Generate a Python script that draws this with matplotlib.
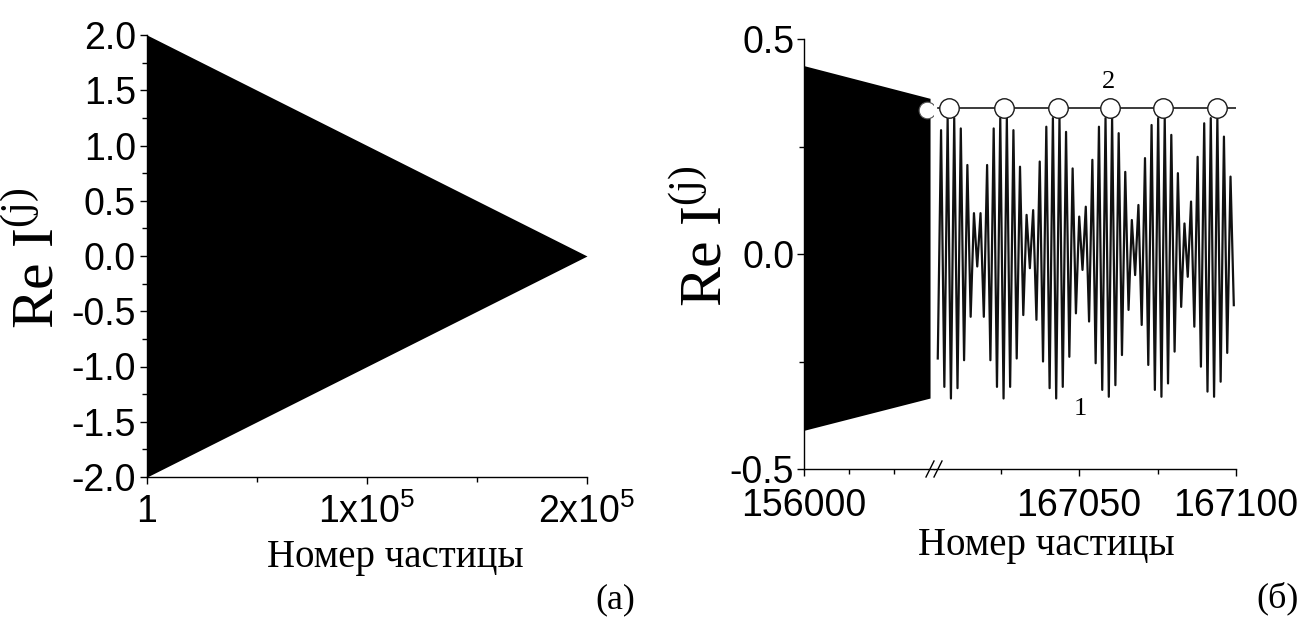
import numpy as np
import matplotlib
matplotlib.use("Agg")
import matplotlib.pyplot as plt
from matplotlib.lines import Line2D
from matplotlib.ticker import FixedLocator, MultipleLocator, FormatStrFormatter

plt.rcParams['font.family'] = ['Liberation Sans', 'DejaVu Sans']
plt.rcParams['axes.unicode_minus'] = False

# ---- panel (a): envelope of Re I(j) over the whole chain ----
a_x = [1, 2.0e5]
a_upper = [2.0, 0.0]
a_lower = [-2.0, 0.0]
a_xticks = [1, 1.0e5, 2.0e5]
a_xticklabels = ['1', r'$\mathregular{1x10^5}$', r'$\mathregular{2x10^5}$']

# ---- panel (б), left of the break: envelope near particle 156000 ----
b_env_x = [156000, 157400]
b_env_upper = [0.438, 0.362]
b_env_lower = [-0.410, -0.335]
b_end_circle_x = [157370]
b_end_circle_y = [0.336]

# ---- panel (б), right of the break: curve 1 (read sample by sample) ----
curve1_start, curve1_end = 167005.0, 167099.3
curve1_y = [
    -0.243, 0.288, -0.309, 0.316, -0.336, 0.316, -0.312, 0.292, -0.247, 0.207,
    -0.146, 0.095, -0.029, 0.095, -0.146, 0.207, -0.247, 0.292, -0.309, 0.316,
    -0.336, 0.316, -0.309, 0.288, -0.243, 0.203, -0.142, 0.091, -0.033,
    0.102, -0.153, 0.215, -0.250, 0.296, -0.312, 0.316, -0.336, 0.316, -0.309,
    0.284, -0.239, 0.199, -0.138, 0.087, -0.037, 0.110, -0.157, 0.219, -0.254,
    0.296, -0.316, 0.316, -0.332, 0.316, -0.305, 0.281, -0.235, 0.191, -0.130,
    0.079, -0.049,
    0.114, -0.165, 0.223, -0.258, 0.300, -0.316, 0.316, -0.332, 0.316, -0.301,
    0.277, -0.227, 0.188, -0.123, 0.071, -0.053, 0.122, -0.169, 0.226, -0.262,
    0.304, -0.320, 0.316, -0.332, 0.316, -0.297, 0.273, -0.230, 0.180, -0.119,
]
curve1_x = np.linspace(curve1_start, curve1_end, len(curve1_y))

# curve 2: envelope maxima
curve2_line_x = [167005, 167100]
curve2_line_y = [0.34, 0.34]
curve2_x = [167008.6, 167026.1, 167043.2, 167059.9, 167076.8, 167094.0]
curve2_y = [0.34, 0.34, 0.34, 0.34, 0.34, 0.34]

W, H = 1301, 617
fig = plt.figure(figsize=(W / 100, H / 100), dpi=100)

tick_fs = 27
serif = 'Liberation Serif'


def style(ax):
    for s in ax.spines.values():
        s.set_linewidth(1.0)
    ax.spines['top'].set_visible(False)
    ax.spines['right'].set_visible(False)
    ax.tick_params(which='major', direction='out', length=5, width=1.0, labelsize=tick_fs)
    ax.tick_params(which='minor', direction='out', length=3.5, width=1.0)


def fig_box(x0, y0, x1, y1):
    return [x0 / W, 1 - y1 / H, (x1 - x0) / W, (y1 - y0) / H]


# ---------------- panel (a) ----------------
axA = fig.add_axes(fig_box(147, 35, 587, 477))
axA.fill_between(a_x, a_upper, a_lower, color='black', lw=0)
axA.set_xlim(a_x[0], a_x[1])
axA.set_ylim(-2.0, 2.0)
style(axA)
axA.set_xticks(a_xticks)
axA.set_xticklabels(a_xticklabels)
axA.xaxis.set_minor_locator(FixedLocator([5.0e4, 1.5e5]))
axA.yaxis.set_major_locator(MultipleLocator(0.5))
axA.yaxis.set_minor_locator(MultipleLocator(0.25))
axA.yaxis.set_major_formatter(FormatStrFormatter('%.1f'))
axA.tick_params(axis='x', pad=7)
axA.tick_params(axis='y', pad=3)

# ---------------- panel (б) ----------------
brk = 934
axB1 = fig.add_axes(fig_box(804, 39, brk, 469))
axB2 = fig.add_axes(fig_box(brk, 39, 1236, 469))

axB1.fill_between(b_env_x, b_env_upper, b_env_lower, color='black', lw=0)
axB1.plot(b_end_circle_x, b_end_circle_y, 'o', ms=12, mfc='white', mec='#555555',
          mew=0.8, clip_on=False, zorder=5)
axB1.set_xlim(156000, 157444)
axB1.set_ylim(-0.5, 0.5)
style(axB1)
axB1.set_xticks([156000])
axB1.xaxis.set_minor_locator(FixedLocator([156500, 157000]))
axB1.set_yticks([-0.5, 0.0, 0.5])
axB1.yaxis.set_minor_locator(FixedLocator([-0.25, 0.25]))
axB1.yaxis.set_major_formatter(FormatStrFormatter('%.1f'))
axB1.tick_params(axis='x', pad=9)
axB1.tick_params(axis='y', pad=2)

axB2.plot(curve1_x, curve1_y, color='#111111', lw=1.6, zorder=2)
axB2.plot(curve2_line_x, curve2_line_y, color='#1a1a1a', lw=1.2, zorder=3)
axB2.plot(curve2_x, curve2_y, 'o', ms=14, mfc='white', mec='#1a1a1a', mew=1.0,
          zorder=4, clip_on=False)
axB2.set_xlim(167003.8, 167100)
axB2.set_ylim(-0.5, 0.5)
style(axB2)
axB2.spines['left'].set_visible(False)
axB2.set_yticks([])
axB2.set_xticks([167050, 167100])
axB2.xaxis.set_minor_locator(FixedLocator([167025, 167075]))
axB2.tick_params(axis='x', pad=9)

axB2.text(167059.5, 0.40, '2', fontsize=19, family=serif, ha='center', va='center')
axB2.text(167050.5, -0.36, '1', fontsize=19, family=serif, ha='center', va='center')

# break mark on the bottom axis
for dx in (-4, 4):
    x0, x1 = (brk + dx - 4) / W, (brk + dx + 4) / W
    y0, y1 = 1 - (469 + 8) / H, 1 - (469 - 8) / H
    fig.add_artist(Line2D([x0, x1], [y0, y1], color='black', lw=1.0))

# ---------------- labels ----------------
ylab = 'Re I$^{\\mathregular{(j)}}$'
fig.text(38 / W, 1 - 258 / H, ylab, rotation=90, fontsize=43, family=serif,
         ha='center', va='center')
fig.text(706 / W, 1 - 236 / H, ylab, rotation=90, fontsize=43, family=serif,
         ha='center', va='center')
fig.text(395 / W, 1 - 557 / H, 'Номер частицы', fontsize=28, family=serif,
         ha='center', va='center')
fig.text(1046 / W, 1 - 546 / H, 'Номер частицы', fontsize=28, family=serif,
         ha='center', va='center')
fig.text(615 / W, 1 - 600 / H, '(a)', fontsize=26, family=serif, ha='center', va='center')
fig.text(1278 / W, 1 - 598 / H, '(б)', fontsize=26, family=serif, ha='center', va='center')

fig.savefig('out.png', dpi=100)
